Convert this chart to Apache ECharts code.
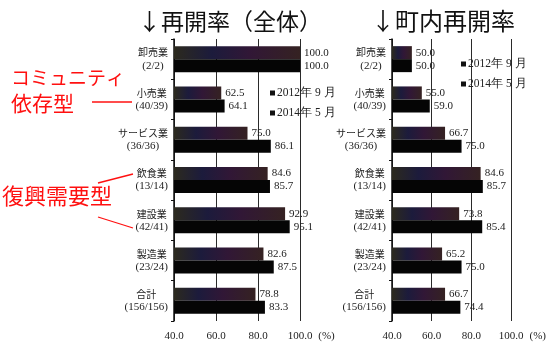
<!DOCTYPE html>
<html>
<head>
<meta charset="utf-8">
<script src="https://cdn.jsdelivr.net/npm/echarts@6/dist/echarts.min.js"></script>
<style>
  html, body { margin: 0; padding: 0; background: #fff; }
  #chart { width: 549px; height: 347px; }
</style>
</head>
<body>
<div id="chart"></div>
<script>
// 業種 (回答数 2012/2014)
const industries = ['卸売業', '小売業', 'サービス業', '飲食業', '建設業', '製造業', '合計'];
const counts = ['(2/2)', '(40/39)', '(36/36)', '(13/14)', '(42/41)', '(23/24)', '(156/156)'];

const seriesNames = ['2012年 9 月', '2014年 5 月'];

// 再開率（全体）, %
const overall2012 = [100.0, 62.5, 75.0, 84.6, 92.9, 82.6, 78.8];
const overall2014 = [100.0, 64.1, 86.1, 85.7, 95.1, 87.5, 83.3];

// 町内再開率, %
const local2012 = [50.0, 55.0, 66.7, 84.6, 73.8, 65.2, 66.7];
const local2014 = [50.0, 59.0, 75.0, 85.7, 85.4, 75.0, 74.4];

const xTickLabels = ['40.0', '60.0', '80.0', '100.0'];

const categories = industries.map((name, i) => name + '\n' + counts[i]);

const serif = '"Liberation Serif", "DejaVu Serif", serif';
const jp = '"Noto Sans CJK JP", sans-serif';

const bar2012Color = new echarts.graphic.LinearGradient(0, 0, 1, 0, [
  { offset: 0, color: '#2c2a1e' },
  { offset: 0.3, color: '#1c1b3c' },
  { offset: 0.6, color: '#311736' },
  { offset: 1, color: '#352222' }
]);
const bar2014Color = '#050505';

function xAxisFor(gridIndex) {
  return {
    type: 'value', gridIndex: gridIndex,
    min: 40, max: 100, interval: 20,
    name: '(%)', nameLocation: 'end', nameGap: 13,
    nameTextStyle: { fontFamily: serif, fontSize: 11, color: '#222', verticalAlign: 'top', padding: [10, 0, 0, 0] },
    axisLine: { show: false },
    axisTick: { show: false },
    axisLabel: {
      margin: 10, fontFamily: serif, fontSize: 11, color: '#222',
      formatter: v => xTickLabels[(v - 40) / 20]
    },
    splitLine: { show: true, lineStyle: { color: '#2a2a2a', width: 1 } }
  };
}

function yAxisFor(gridIndex) {
  return {
    type: 'category', gridIndex: gridIndex, inverse: true,
    data: categories,
    axisLine: { show: true, lineStyle: { color: '#111', width: 1.5 } },
    axisTick: { show: true, inside: false, length: 3, lineStyle: { color: '#111' } },
    axisLabel: {
      margin: 6,
      formatter: v => {
        const parts = v.split('\n');
        return '{a|' + parts[0] + '}\n{b|' + parts[1] + '}';
      },
      rich: {
        a: { fontFamily: jp, fontSize: 10, color: '#222', lineHeight: 13, align: 'center' },
        b: { fontFamily: serif, fontSize: 11, color: '#222', lineHeight: 13, align: 'center' }
      }
    }
  };
}

function barSeries(name, data, axisIndex, color) {
  return {
    name: name, type: 'bar',
    xAxisIndex: axisIndex, yAxisIndex: axisIndex,
    data: data,
    barWidth: 13, barGap: '0%',
    itemStyle: { color: color },
    label: {
      show: true, position: 'right', distance: 4,
      fontFamily: serif, fontSize: 11, color: '#222',
      formatter: p => p.value.toFixed(1)
    }
  };
}

const chart = echarts.init(document.getElementById('chart'), null, { renderer: 'canvas' });

chart.setOption({
  animation: false,
  backgroundColor: '#fff',
  title: [
    { text: '↓再開率（全体）', left: 133, top: 5,
      textStyle: { fontFamily: jp, fontSize: 23, fontWeight: 'normal', color: '#111' } },
    { text: '↓町内再開率', left: 366, top: 4,
      textStyle: { fontFamily: jp, fontSize: 24, fontWeight: 'normal', color: '#111' } }
  ],
  legend: [
    { data: seriesNames.map(n => ({ name: n, itemStyle: { color: '#111' } })),
      orient: 'vertical', left: 270, top: 87, itemGap: 8,
      itemWidth: 5, itemHeight: 5, icon: 'rect', padding: 0,
      textStyle: { fontFamily: serif, fontSize: 11.5, color: '#222', padding: [0, 0, 0, -3] } },
    { data: seriesNames.map(n => ({ name: n, itemStyle: { color: '#111' } })),
      orient: 'vertical', left: 461, top: 58, itemGap: 8,
      itemWidth: 5, itemHeight: 5, icon: 'rect', padding: 0,
      textStyle: { fontFamily: serif, fontSize: 11.5, color: '#222', padding: [0, 0, 0, -3] } }
  ],
  grid: [
    { left: 174, top: 39, width: 126, height: 282 },
    { left: 392, top: 39, width: 125, height: 282 }
  ],
  xAxis: [xAxisFor(0), xAxisFor(1)],
  yAxis: [yAxisFor(0), yAxisFor(1)],
  series: [
    barSeries(seriesNames[0], overall2012, 0, bar2012Color),
    barSeries(seriesNames[1], overall2014, 0, bar2014Color),
    barSeries(seriesNames[0], local2012, 1, bar2012Color),
    barSeries(seriesNames[1], local2014, 1, bar2014Color)
  ],
  graphic: [
    { type: 'text', left: 11, top: 68,
      style: { text: 'コミュニティ', fontFamily: jp, fontSize: 19, fill: '#ff1010' } },
    { type: 'text', left: 11, top: 93,
      style: { text: '依存型', fontFamily: jp, fontSize: 21, fill: '#ff1010' } },
    { type: 'line', shape: { x1: 92, y1: 102, x2: 132, y2: 102 },
      style: { stroke: '#ff1010', lineWidth: 1.3 } },
    { type: 'text', left: 2, top: 185,
      style: { text: '復興需要型', fontFamily: jp, fontSize: 22, fill: '#ff1010' } },
    { type: 'line', shape: { x1: 98, y1: 183, x2: 133, y2: 174 },
      style: { stroke: '#ff1010', lineWidth: 1.3 } },
    { type: 'line', shape: { x1: 98, y1: 217, x2: 133, y2: 228 },
      style: { stroke: '#ff1010', lineWidth: 1.3 } }
  ]
});
</script>
</body>
</html>
